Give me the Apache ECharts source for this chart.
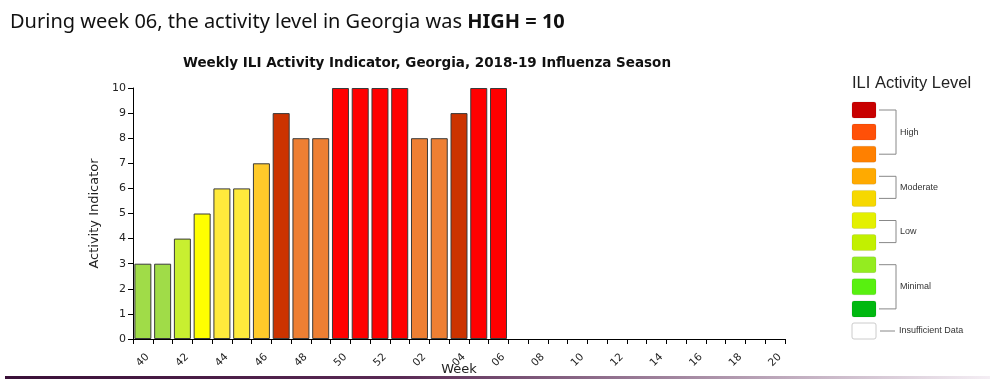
<!DOCTYPE html>
<html>
<head>
<meta charset="utf-8">
<script src="https://cdn.jsdelivr.net/npm/echarts@6/dist/echarts.min.js"></script>
<style>html,body{margin:0;padding:0;background:#fff}#c{width:1000px;height:380px}</style>
</head>
<body>
<div id="c"></div>
<script>
var weeks = ['40','41','42','43','44','45','46','47','48','49','50','51','52','01','02','03','04','05','06','07','08','09','10','11','12','13','14','15','16','17','18','19','20'];
var activity = [3,3,4,5,6,6,7,9,8,8,10,10,10,10,8,8,9,10,10];
var levelColors = {3:'#a0dc48',4:'#c8ef30',5:'#ffff00',6:'#ffea3c',7:'#ffca2a',8:'#ee7f33',9:'#cc3300',10:'#ff0000'};
var legendColors = ['#c80000','#ff5008','#ff8000','#ffaa00','#f6d800','#e4f000','#c2f000','#94ec20','#58f010','#00b810','#ffffff'];
var legendGroups = [{label:'High',from:0,to:2},{label:'Moderate',from:3,to:4},{label:'Low',from:5,to:6},{label:'Minimal',from:7,to:9}];
var insufficientLabel = 'Insufficient Data';

var chart = echarts.init(document.getElementById('c'));

var barData = activity.map(function(v){
  return {value:v, itemStyle:{color:levelColors[v]}};
});

var g = [];
g.push({type:'text', left:10, top:12, style:{
  text:'{n|During week 06, the activity level in Georgia was }{b|HIGH = 10}',
  rich:{n:{fontFamily:'Noto Sans',fontSize:20,fill:'#111'},b:{fontFamily:'Noto Sans',fontSize:20,fontWeight:'bold',fill:'#111'}}
}});
g.push({type:'text', x:427, y:63, style:{text:'Weekly ILI Activity Indicator, Georgia, 2018-19 Influenza Season',
  fontFamily:'DejaVu Sans',fontWeight:'bold',fontSize:13.5,fill:'#111',align:'center',verticalAlign:'middle'}});
g.push({type:'rect', shape:{x:5,y:376,width:985,height:3}, style:{fill:new echarts.graphic.LinearGradient(0,0,1,0,[{offset:0,color:'#3a1038'},{offset:0.4,color:'#5a2a55'},{offset:1,color:'#f4eef4'}])}});
// legend
g.push({type:'text', x:852, y:83, style:{text:'ILI Activity Level',fontFamily:'Liberation Sans',fontSize:16.5,fill:'#222',verticalAlign:'middle'}});
var sy0 = 102, pitch = 22.1;
legendColors.forEach(function(c,i){
  g.push({type:'rect', shape:{x:852,y:sy0+i*pitch,width:24,height:16,r:2}, style:{fill:c,stroke:i===10?'#ccc':'rgba(0,0,0,0.08)',lineWidth:1}});
});
legendGroups.forEach(function(gr){
  var y1 = sy0+gr.from*pitch+8, y2 = sy0+gr.to*pitch+8;
  g.push({type:'polyline', shape:{points:[[879,y1],[896,y1],[896,y2],[879,y2]]}, style:{stroke:'#888',lineWidth:1,fill:null}});
  g.push({type:'text', x:900, y:(y1+y2)/2, style:{text:gr.label,fontFamily:'Liberation Sans',fontSize:9,fill:'#333',verticalAlign:'middle'}});
});
var yi = sy0+10*pitch+8;
g.push({type:'line', shape:{x1:880,y1:yi,x2:895,y2:yi}, style:{stroke:'#888',lineWidth:1}});
g.push({type:'text', x:899, y:yi, style:{text:insufficientLabel,fontFamily:'Liberation Sans',fontSize:9,fill:'#333',verticalAlign:'middle'}});

chart.setOption({
  animation:false,
  backgroundColor:'#fff',
  grid:{left:133,right:215,top:88,bottom:41,containLabel:false,outerBoundsMode:'none'},
  xAxis:{type:'category',data:weeks,boundaryGap:true,
    name:'Week',nameLocation:'middle',nameGap:24,nameMoveOverlap:false,nameTextStyle:{fontFamily:'DejaVu Sans',fontSize:13,color:'#222'},
    axisLine:{lineStyle:{color:'#000',width:1}},
    axisTick:{show:true,interval:0,length:5,lineStyle:{color:'#000'}},
    axisLabel:{interval:1,rotate:45,align:'center',verticalAlign:'middle',fontFamily:'DejaVu Sans',fontSize:10.5,color:'#222',margin:21}},
  yAxis:{type:'value',min:0,max:10,interval:1,
    name:'Activity Indicator',nameLocation:'middle',nameGap:30,nameTextStyle:{fontFamily:'DejaVu Sans',fontSize:13,color:'#222'},
    axisLine:{show:true,lineStyle:{color:'#000',width:1}},
    axisTick:{show:true,length:5,lineStyle:{color:'#000'}},
    splitLine:{show:false},
    axisLabel:{fontFamily:'DejaVu Sans',fontSize:11,color:'#222',margin:7}},
  series:[{type:'bar',data:barData,barCategoryGap:'14%',
    itemStyle:{borderColor:'#3a3a3a',borderWidth:1}}],
  graphic:g
});
</script>
</body>
</html>
